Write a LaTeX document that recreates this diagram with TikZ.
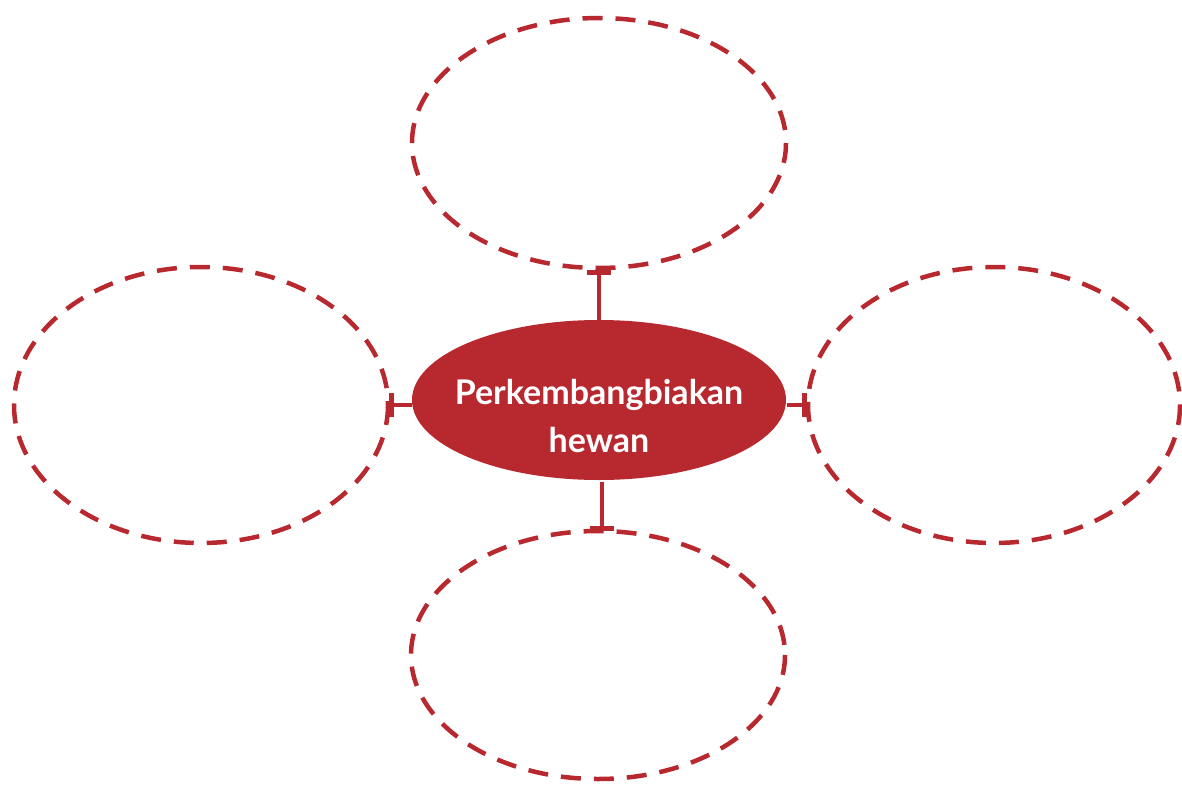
\documentclass[tikz,border=0pt]{standalone}
\usepackage{fontspec}
\setmainfont{Lato}
\usetikzlibrary{arrows.meta}
\definecolor{rd}{HTML}{B8292F}
\begin{document}
\begin{tikzpicture}[x=1pt,y=-1pt,
  bubble/.style={draw=rd,line width=4.5pt,dash pattern=on 20pt off 13pt},
  link/.style={draw=rd,line width=4.5pt,-{Bar[width=24pt,line width=5pt]}}]
\useasboundingbox (0,0) rectangle (1182,784);
\draw[bubble] (599,143) ellipse [x radius=187, y radius=125];
\draw[bubble] (201,405) ellipse [x radius=187, y radius=138];
\draw[bubble] (994,405) ellipse [x radius=186, y radius=138];
\draw[bubble] (598,655) ellipse [x radius=187, y radius=124];
\fill[rd] (599,400) ellipse [x radius=187, y radius=80];
\node[font=\bfseries\fontsize{34}{48}\selectfont,text=white,align=center] (t) at (599,416) {Perkembangbiakan\\hewan};
\coordinate (tA) at (599,320);
\coordinate (tB) at (599,270);
\coordinate (lA) at (412,405);
\coordinate (lB) at (389,405);
\coordinate (rA) at (787,405);
\coordinate (rB) at (807,405);
\coordinate (bA) at (602,482);
\coordinate (bB) at (602,531);
\draw[link] (tA) -- (tB);
\draw[link] (lA) -- (lB);
\draw[link] (rA) -- (rB);
\draw[link] (bA) -- (bB);
\end{tikzpicture}
\end{document}
